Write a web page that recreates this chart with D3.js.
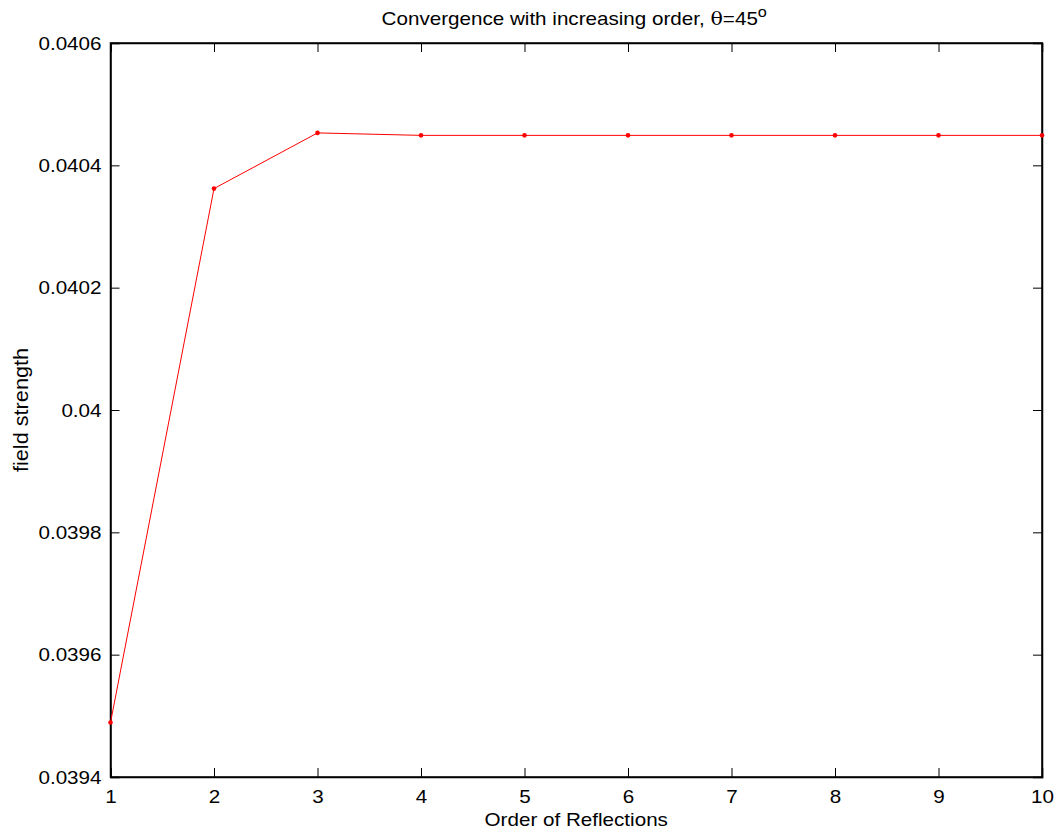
<!DOCTYPE html>
<html>
<head>
<meta charset="utf-8">
<script src="https://cdn.jsdelivr.net/npm/d3@7"></script>
<style>
  body { margin: 0; background: #fff; }
  text { font-family: "Liberation Sans", Arial, Helvetica, sans-serif; }
</style>
</head>
<body>
<div id="chart"></div>
<script>
// data
const orders = [1, 2, 3, 4, 5, 6, 7, 8, 9, 10];
const fieldStrength = [0.039489, 0.040362, 0.040453, 0.040449, 0.040449,
  0.040449, 0.040449, 0.040449, 0.040449, 0.040449];
const xTicks = [1, 2, 3, 4, 5, 6, 7, 8, 9, 10];
const yTicks = [0.0394, 0.0396, 0.0398, 0.04, 0.0402, 0.0404, 0.0406];
const yTickLabels = ["0.0394", "0.0396", "0.0398", "0.04", "0.0402", "0.0404", "0.0406"];

const width = 1061, height = 832;
const margin = {top: 43, right: 19, bottom: 55, left: 110.5};
const fontSize = 19;

const svg = d3.select("#chart")
  .append("svg")
  .attr("width", width)
  .attr("height", height);

const xScale = d3.scaleLinear()
  .domain([1, 10])
  .range([margin.left, width - margin.right]);
const yScale = d3.scaleLinear()
  .domain([0.0394, 0.0406])
  .range([height - margin.bottom, margin.top]);

const tickLen = 9;

// axes: bottom/left with labels, top/right with ticks only (inward)
const gx = svg.append("g")
  .attr("transform", `translate(0,${height - margin.bottom})`)
  .call(d3.axisBottom(xScale).tickValues(xTicks).tickSize(-tickLen).tickPadding(13)
    .tickFormat(d3.format("d")));
const gxTop = svg.append("g")
  .attr("transform", `translate(0,${margin.top})`)
  .call(d3.axisTop(xScale).tickValues(xTicks).tickSize(-tickLen).tickFormat(""));
const gy = svg.append("g")
  .attr("transform", `translate(${margin.left},0)`)
  .call(d3.axisLeft(yScale).tickValues(yTicks).tickSize(-tickLen).tickPadding(9)
    .tickFormat((d, i) => yTickLabels[i]));
const gyRight = svg.append("g")
  .attr("transform", `translate(${width - margin.right},0)`)
  .call(d3.axisRight(yScale).tickValues(yTicks).tickSize(-tickLen).tickFormat(""));

[gx, gxTop, gy, gyRight].forEach(g => {
  g.select(".domain").attr("stroke", "#000").attr("stroke-width", 1.5);
  g.selectAll(".tick line").attr("stroke", "#000").attr("stroke-width", 1);
  g.selectAll(".tick text").attr("fill", "#000").style("font-size", fontSize + "px");
});
// close the box corners
svg.append("rect")
  .attr("x", margin.left).attr("y", margin.top)
  .attr("width", width - margin.right - margin.left)
  .attr("height", height - margin.bottom - margin.top)
  .attr("fill", "none").attr("stroke", "#000").attr("stroke-width", 1.5);

// line
const line = d3.line()
  .x((d, i) => xScale(orders[i]))
  .y(d => yScale(d));

svg.append("path")
  .datum(fieldStrength)
  .attr("d", line)
  .attr("fill", "none")
  .attr("stroke", "#ff0000")
  .attr("stroke-width", 1);

svg.selectAll("circle.pt")
  .data(fieldStrength)
  .enter()
  .append("circle")
  .attr("class", "pt")
  .attr("cx", (d, i) => xScale(orders[i]))
  .attr("cy", d => yScale(d))
  .attr("r", 2.3)
  .attr("fill", "#ff0000");

// labels
svg.append("text")
  .attr("x", (margin.left + width - margin.right) / 2)
  .attr("y", height - 6)
  .attr("text-anchor", "middle")
  .style("font-size", fontSize + "px")
  .text("Order of Reflections");

svg.append("text")
  .attr("transform", `translate(28,${(margin.top + height - margin.bottom) / 2}) rotate(-90)`)
  .attr("text-anchor", "middle")
  .style("font-size", "20px")
  .text("field strength");

const title = svg.append("text")
  .attr("x", (margin.left + width - margin.right) / 2 - 2)
  .attr("y", 25)
  .attr("text-anchor", "middle")
  .style("font-size", fontSize + "px");
title.append("tspan").text("Convergence with increasing order, ");
title.append("tspan").style("font-family", "'DejaVu Serif', serif").text("θ");
title.append("tspan").text("=45");
title.append("tspan").attr("dy", -8).style("font-size", "15px").text("o");

// the reference lettering is a bit wider than Liberation Sans: stretch glyphs slightly
svg.selectAll("text").each(function () {
  const w = this.getComputedTextLength();
  if (w > 0) {
    d3.select(this).attr("textLength", w * 1.085).attr("lengthAdjust", "spacingAndGlyphs");
  }
});
</script>
</body>
</html>
